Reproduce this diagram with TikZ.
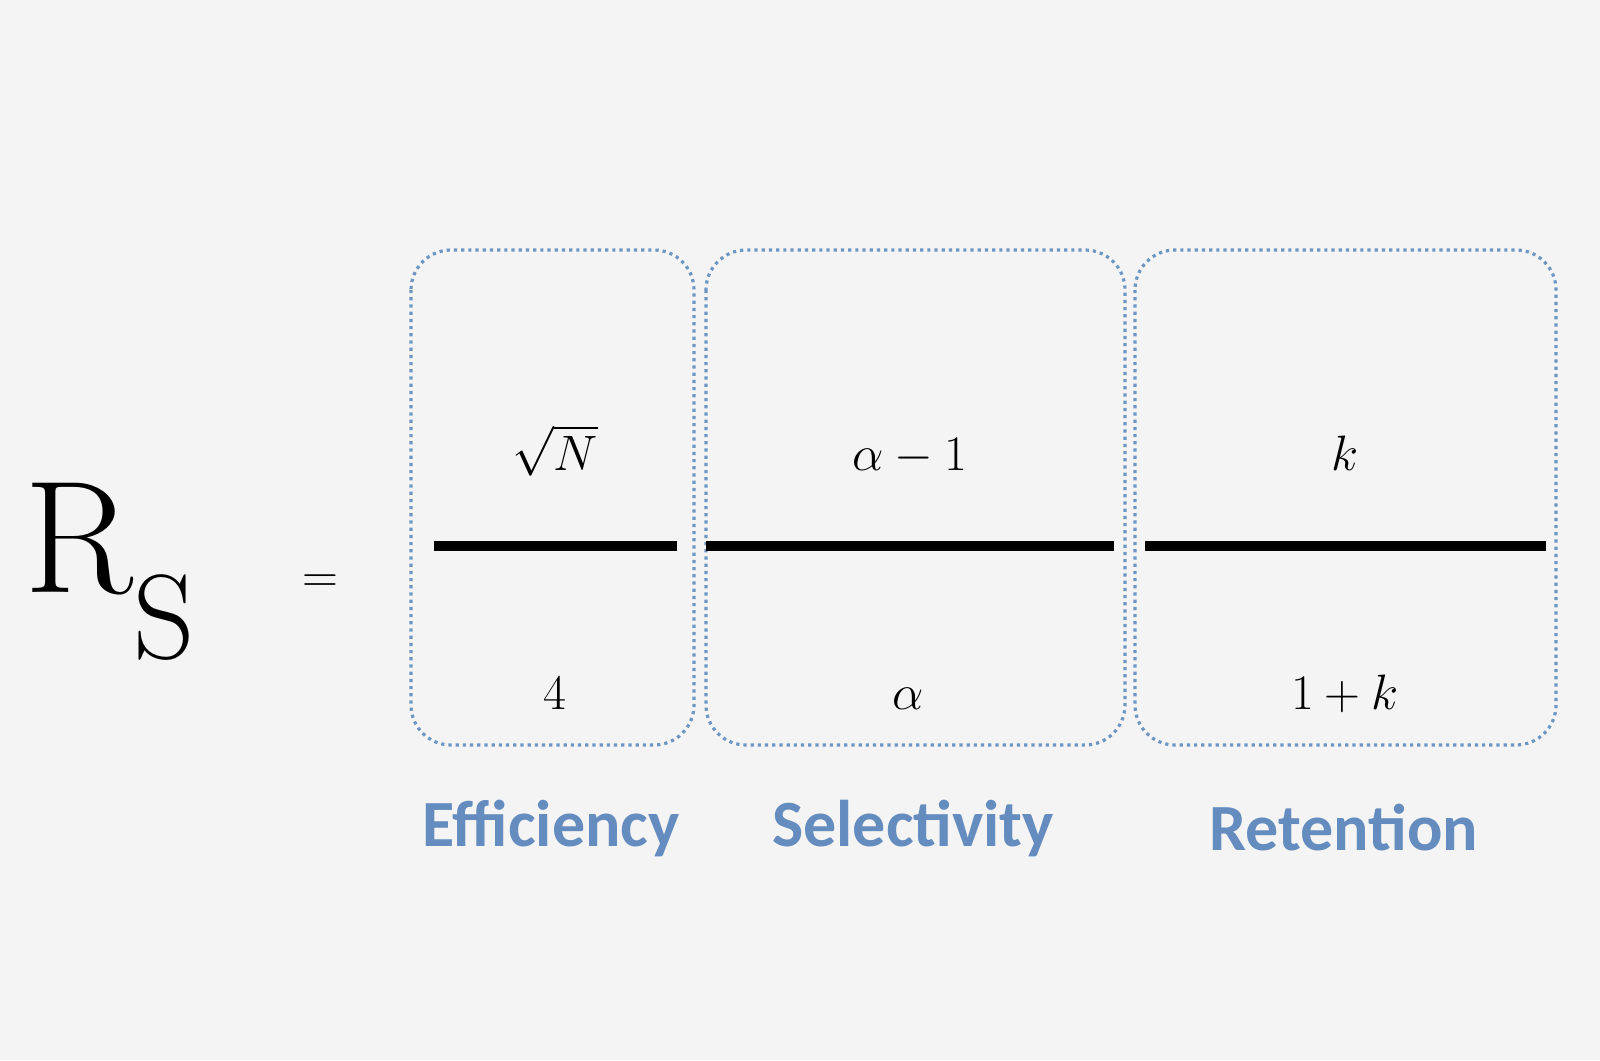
\documentclass[tikz,border=0pt]{standalone}
\usepackage{fontspec}
\newfontfamily\labfont{Carlito}
\DeclareMathSizes{80}{80}{60}{45}
\definecolor{bg}{RGB}{244,244,244}
\definecolor{boxc}{RGB}{110,150,195}
\definecolor{labc}{RGB}{100,140,190}
\begin{document}
\begin{tikzpicture}[x=0.5pt,y=-0.5pt,
  eqbox/.style={draw=boxc,dotted,line width=1.6pt,rounded corners=20pt},
  big/.style={inner sep=0pt,anchor=base,font=\fontsize{80}{96}\selectfont},
  lab/.style={inner sep=0pt,text=labc,font=\labfont\bfseries\fontsize{33}{38}\selectfont},
  bar/.style={line width=5pt}]
\fill[bg] (0,0) rectangle (1600,1060);
\useasboundingbox (0,0) rectangle (1600,1060);
\node[big,anchor=base west] (rs) at (24,592) {$\mathrm{R}_{\mathrm{S}}$};
\node[big] (eq) at (320,592) {$=$};
\draw[eqbox] (411,250) rectangle (694,745);
\draw[eqbox] (706,250) rectangle (1125,745);
\draw[eqbox] (1135,250) rectangle (1556,745);
\coordinate (b1a) at (434,546); \coordinate (b1b) at (677,546);
\coordinate (b2a) at (706,546); \coordinate (b2b) at (1114,546);
\coordinate (b3a) at (1145,546); \coordinate (b3b) at (1546,546);
\draw[bar] (b1a) -- (b1b);
\draw[bar] (b2a) -- (b2b);
\draw[bar] (b3a) -- (b3b);
\node[big] (n1) at (555,470) {$\sqrt{N}$};
\node[big] (d1) at (555,709) {$4$};
\node[big] (n2) at (910,470) {$\alpha-1$};
\node[big] (d2) at (908,709) {$\alpha$};
\node[big] (n3) at (1345,470) {$k$};
\node[big] (d3) at (1345,709) {$1+k$};
\node[lab] (l1) at (551,828) {Efficiency};
\node[lab] (l2) at (913,828) {Selectivity};
\node[lab] (l3) at (1344,828) {Retention};
\end{tikzpicture}
\end{document}
